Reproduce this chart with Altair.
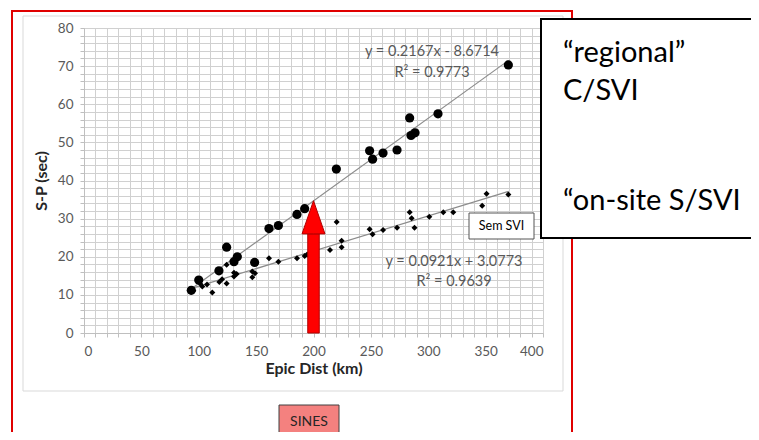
import altair as alt
import pandas as pd

# ---- data ----
regional_x = [93.5, 100.0, 117.6, 124.3, 130.7, 133.6, 148.7, 161.2, 169.4, 185.6,
              192.3, 219.9, 248.9, 251.5, 260.6, 272.8, 283.8, 285.0, 288.5, 308.5, 369.8]
regional_y = [11.2, 13.9, 16.3, 22.5, 18.7, 20.0, 18.5, 27.4, 28.2, 31.1,
              32.6, 43.0, 47.8, 45.6, 47.2, 48.0, 56.4, 51.8, 52.5, 57.5, 70.3]

onsite_x = [93.2, 95.3, 99.6, 101.1, 103.1, 107.2, 111.8, 117.9, 120.3, 124.3, 124.3,
            130.7, 130.7, 133.0, 146.7, 146.7, 149.0, 161.2, 169.4, 185.6, 192.3, 194.5,
            214.4, 220.2, 224.5, 224.5, 248.9, 251.5, 260.6, 272.8, 283.8, 285.5, 288.0,
            300.9, 313.1, 321.8, 347.0, 350.8, 369.8]
onsite_y = [10.8, 11.1, 13.7, 13.0, 12.2, 12.7, 10.6, 13.4, 14.1, 13.0, 17.9,
            15.8, 14.8, 15.5, 16.1, 14.6, 15.7, 19.6, 18.7, 19.6, 20.2, 20.6,
            21.8, 29.1, 24.2, 22.5, 27.2, 25.9, 27.0, 27.6, 31.7, 30.1, 27.6,
            30.5, 31.7, 31.7, 33.4, 36.5, 36.3]

trend_names = ["regional", "onsite"]
trend_slope = [0.2167, 0.0921]
trend_intercept = [-8.6714, 3.0773]
trend_xmin = [93.0, 93.0]
trend_xmax = [370.0, 370.0]

# arrow annotation (data units)
arrow_x = 200.0
arrow_shaft_half = 5.0
arrow_head_half = 10.0
arrow_base_y = 26.0
arrow_tip_y = 34.7

x_ticks = list(range(0, 401, 10))
y_ticks = list(range(0, 81, 2))

FONT = "Lato"

reg_df = pd.DataFrame({"x": regional_x, "y": regional_y})
ons_df = pd.DataFrame({"x": onsite_x, "y": onsite_y})

trend_rows = []
for n, s, b, a, e in zip(trend_names, trend_slope, trend_intercept, trend_xmin, trend_xmax):
    trend_rows.append({"series": n, "x": a, "y": s * a + b})
    trend_rows.append({"series": n, "x": e, "y": s * e + b})
trend_df = pd.DataFrame(trend_rows)

xs = alt.Scale(domain=[0, 400], nice=False)
ys = alt.Scale(domain=[0, 80], nice=False)

x_axis = alt.Axis(values=x_ticks, labelExpr="datum.value % 50 == 0 ? datum.label : ''",
                  labelOverlap=False, labelBound=False,
                  title="Epic Dist (km)", grid=True, gridColor="#d0d0d0", gridWidth=1,
                  domainColor="#bfbfbf", tickColor="#bfbfbf", tickSize=4,
                  labelPadding=7, labelColor="#595959", labelFontSize=13.5, labelFont=FONT,
                  titleFont=FONT, titleFontSize=16, titleFontWeight="bold",
                  titleColor="#262626", titlePadding=3)
y_axis = alt.Axis(values=y_ticks, labelExpr="datum.value % 10 == 0 ? datum.label : ''",
                  labelOverlap=False, labelBound=False,
                  title="S-P (sec)", grid=True, gridColor="#d0d0d0", gridWidth=1,
                  domainColor="#bfbfbf", tickColor="#bfbfbf", tickSize=4,
                  labelPadding=7, labelColor="#595959", labelFontSize=13.5, labelFont=FONT,
                  titleFont=FONT, titleFontSize=16, titleFontWeight="bold",
                  titleColor="#262626", titlePadding=8)

X = lambda f="x:Q": alt.X(f, scale=xs, axis=x_axis)
Y = lambda f="y:Q": alt.Y(f, scale=ys, axis=y_axis)

one = pd.DataFrame({"k": [0]})

def box(x1, x2, y1, y2, stroke, width, fill=None):
    kw = dict(stroke=stroke, strokeWidth=width)
    if fill is None:
        kw["fillOpacity"] = 0
        kw["fill"] = "white"
    else:
        kw["fill"] = fill
    return alt.Chart(one).mark_rect(**kw).encode(
        x=alt.value(x1), x2=alt.value(x2), y=alt.value(y1), y2=alt.value(y2))

def label(txt, x, y, size, color="#000000", align="center", baseline="middle"):
    return alt.Chart(one).mark_text(text=txt, font=FONT, fontSize=size, color=color,
                                    align=align, baseline=baseline).encode(
        x=alt.value(x), y=alt.value(y))

red_border = box(-72, 488, -17, 420, "#e00000", 2)
gray_border = box(-61, 479, -12, 363, "#d9d9d9", 1)

trend = alt.Chart(trend_df).mark_line(color="#8c8c8c", strokeWidth=1.2).encode(
    x=X(), y=Y(), detail="series:N")

reg_pts = alt.Chart(reg_df).mark_circle(size=85, color="#000000", opacity=1).encode(
    x=X(), y=Y())
ons_pts = alt.Chart(ons_df).mark_point(shape="diamond", size=36, filled=True,
                                       color="#000000", opacity=1).encode(
    x=X(), y=Y())

shaft_df = pd.DataFrame({"x": [arrow_x - arrow_shaft_half], "x2": [arrow_x + arrow_shaft_half],
                         "y": [0.0], "y2": [arrow_base_y]})
shaft = alt.Chart(shaft_df).mark_rect(fill="#ff0000", stroke="#b00000", strokeWidth=1).encode(
    x=X(), x2="x2:Q", y=Y(), y2="y2:Q")
head_df = pd.DataFrame({"x": [arrow_x - arrow_head_half, arrow_x, arrow_x + arrow_head_half],
                        "y": [arrow_base_y, arrow_tip_y, arrow_base_y],
                        "y2": [arrow_base_y] * 3})
head = alt.Chart(head_df).mark_area(fill="#ff0000", stroke="#b00000", strokeWidth=1,
                                    opacity=1).encode(
    x=X(), y=Y(), y2="y2:Q")

eq1 = label("y = 0.2167x - 8.6714", 348, 24, 14.5, "#595959")
r1 = label("R² = 0.9773", 348, 44.5, 14.5, "#595959")
eq2 = label("y = 0.0921x + 3.0773", 370, 234, 14.5, "#595959")
r2 = label("R² = 0.9639", 370, 253.5, 14.5, "#595959")

sem_box = box(385, 450, 185, 211, "#555555", 1, fill="#ffffff")
sem_txt = label("Sem SVI", 417.5, 198, 12.5, "#000000")

reg_box = box(457, 720, -9, 210, "#000000", 2, fill="#ffffff")
t1 = label("“regional”", 479, 34, 29, align="left", baseline="alphabetic")
t2 = label("C/SVI", 479, 72, 29, align="left", baseline="alphabetic")
t3 = label("“on-site S/SVI", 479, 182, 29, align="left", baseline="alphabetic")

sines_box = box(195, 255, 377, 425, "#404040", 1, fill="#f4817f")
sines_txt = label("SINES", 225, 394, 14, "#262626")

chart = alt.layer(
    trend, red_border, gray_border, reg_pts, ons_pts, shaft, head,
    eq1, r1, eq2, r2, sem_box, sem_txt, reg_box, t1, t2, t3, sines_box, sines_txt
).properties(
    width=459, height=305,
    autosize=alt.AutoSizeParams(type="none"),
    padding={"left": 76, "top": 20, "right": 208, "bottom": 99},
).configure_view(stroke=None).configure(background="white")

chart.save("out.html", embed_options={"renderer": "svg", "actions": False})
